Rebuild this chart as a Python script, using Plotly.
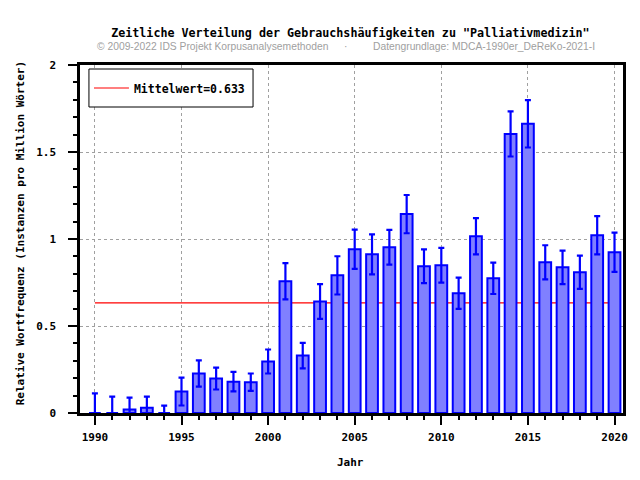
import plotly.graph_objects as go

years = list(range(1990, 2021))
values = [0.0, 0.0, 0.02, 0.03, 0.0, 0.123, 0.227, 0.198, 0.180, 0.177,
          0.296, 0.757, 0.330, 0.641, 0.791, 0.941, 0.912, 0.953, 1.143, 0.843,
          0.849, 0.688, 1.016, 0.774, 1.604, 1.662, 0.866, 0.837, 0.809, 1.022,
          0.924]
errors = [0.113, 0.094, 0.068, 0.064, 0.042, 0.080, 0.075, 0.063, 0.056, 0.050,
          0.069, 0.104, 0.073, 0.100, 0.110, 0.113, 0.115, 0.100, 0.110, 0.097,
          0.100, 0.090, 0.104, 0.090, 0.130, 0.136, 0.098, 0.096, 0.096, 0.110,
          0.113]
mean_value = 0.633
mean_label = "Mittelwert=0.633"

title_text = 'Zeitliche Verteilung der Gebrauchshäufigkeiten zu "Palliativmedizin"'
sub_left = "© 2009-2022 IDS Projekt Korpusanalysemethoden"
sub_mid = "·"
sub_right = "Datengrundlage: MDCA-1990er_DeReKo-2021-I"
x_title = "Jahr"
y_title = "Relative Wortfrequenz (Instanzen pro Million Wörter)"

mono = "DejaVu Sans Mono"
err_minus = [min(e, v) for e, v in zip(errors, values)]

fig = go.Figure()
fig.add_trace(go.Bar(
    x=years, y=values, width=0.68,
    marker=dict(color="#8080ff", line=dict(color="#0000ff", width=2)),
    error_y=dict(type="data", array=errors, arrayminus=err_minus,
                 color="#0000ff", thickness=2.2, width=3),
    showlegend=False, hoverinfo="x+y",
))
fig.add_trace(go.Scatter(
    x=[None], y=[None], mode="lines", name=mean_label,
    line=dict(color="#ff0000", width=1.2),
))
fig.add_shape(type="line", xref="x", yref="y", layer="below",
              x0=years[0], x1=years[-1], y0=mean_value, y1=mean_value,
              line=dict(color="#ff0000", width=1.2))

# legend frame (white box with black border, as in the original)
def px_x(p):
    return (p - 80) / 546

def px_y(p):
    return (413 - p) / 348

fig.add_shape(type="rect", xref="paper", yref="paper", layer="above",
              x0=px_x(89), x1=px_x(254), y0=px_y(107), y1=px_y(69),
              line=dict(color="black", width=1), fillcolor="white")

axis_common = dict(
    showline=True, linecolor="black", linewidth=2.5, mirror=True,
    ticks="outside", ticklen=9, tickwidth=2, tickcolor="black",
    showgrid=True, gridcolor="#a0a0a0", griddash="dot", gridwidth=1,
    zeroline=False,
    tickfont=dict(family=mono, size=11, color="black", weight="bold"),
)
fig.update_xaxes(range=[1989.14, 2020.49], tick0=1990, dtick=5, ticklabelstandoff=3,
                 minor=dict(dtick=1, ticks="outside", ticklen=4, tickwidth=2,
                            tickcolor="black", showgrid=False),
                 **axis_common)
fig.update_yaxes(range=[0, 2], tick0=0, dtick=0.5, ticklabelstandoff=10,
                 minor=dict(dtick=0.1, ticks="outside", ticklen=4, tickwidth=2,
                            tickcolor="black", showgrid=False),
                 **axis_common)

fig.update_layout(
    width=640, height=480,
    margin=dict(l=80, r=14, t=65, b=67),
    paper_bgcolor="white", plot_bgcolor="white",
    title=dict(text=title_text, x=0.498, xref="paper", xanchor="center",
               y=1 - 33 / 480, yanchor="middle",
               font=dict(family=mono, size=11.7, color="black", weight="bold")),
    legend=dict(x=px_x(89), y=px_y(88), xanchor="left", yanchor="middle",
                bgcolor="rgba(0,0,0,0)", borderwidth=0, itemwidth=35,
                font=dict(family=mono, size=11.5, color="black", weight="bold")),
    showlegend=True,
)

sub_font = dict(family="Liberation Sans", size=10.3, color="#a0a0a0")
fig.add_annotation(text=sub_left, xref="paper", yref="paper", x=px_x(95), y=px_y(46),
                   xanchor="left", yanchor="middle", showarrow=False, font=sub_font)
fig.add_annotation(text=sub_mid, xref="paper", yref="paper", x=px_x(347), y=px_y(46),
                   xanchor="center", yanchor="middle", showarrow=False, font=sub_font)
fig.add_annotation(text=sub_right, xref="paper", yref="paper", x=px_x(600), y=px_y(46),
                   xanchor="right", yanchor="middle", showarrow=False, font=sub_font)
fig.add_annotation(text=x_title, xref="paper", yref="paper", x=px_x(352), y=px_y(462),
                   xanchor="center", yanchor="middle", showarrow=False,
                   font=dict(family=mono, size=11, color="black", weight="bold"))
fig.add_annotation(text=y_title, xref="paper", yref="paper", x=px_x(20), y=px_y(233),
                   xanchor="center", yanchor="middle", textangle=-90, showarrow=False,
                   font=dict(family=mono, size=11, color="black", weight="bold"))

fig.write_html("out.html", config={"displayModeBar": False},
               post_script="document.body.style.margin='0';")
